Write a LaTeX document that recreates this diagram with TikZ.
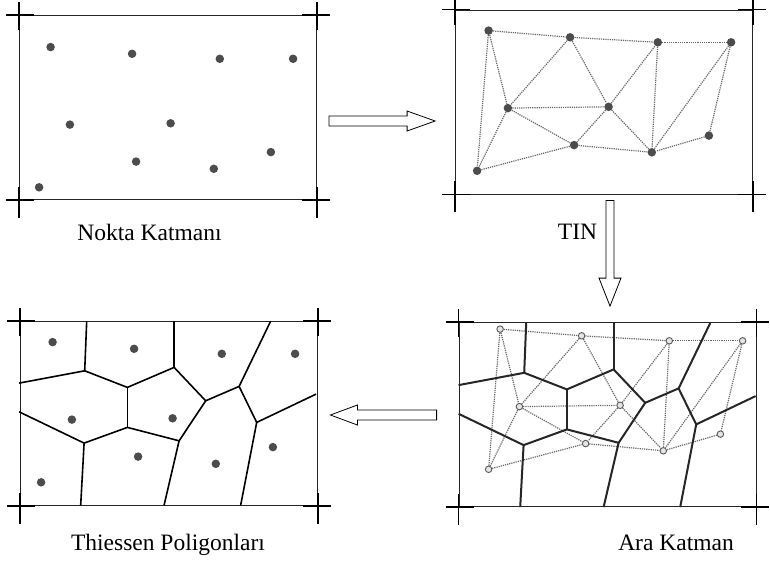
\documentclass[tikz,border=0pt]{standalone}
\usepackage{fontspec}
\setmainfont{Liberation Serif}
\usetikzlibrary{calc}

% sites, relative to the top left corner of a panel
\newcommand\sites[2]{%
  \foreach \n/\px/\py in {a/33.5/21, b/115/27.7, c/202.7/32.7, d/276/32.7, e/52.8/98.5,
      f/153.5/97.2, g/253.8/126, h/119/135.5, i/196.7/142.7, j/22/161.2}
    \node[#2] (#1\n) at (\px,\py) {};}
% triangle edges between the sites
\newcommand\tinedges[1]{%
  \foreach \u/\v in {a/b, b/c, c/d, a/e, a/j, b/e, b/f, e/f, e/j, e/h, f/h, f/c,
      f/i, c/i, d/i, d/g, g/i, h/i, j/h}
    \draw[tinline] (#1\u) -- (#1\v);}
% polygon edges
\newcommand\voronoi[1]{%
  \coordinate (v1) at (65.6,49.7);
  \coordinate (v2) at (108.3,66.3);
  \coordinate (v3) at (155,46.3);
  \coordinate (v4) at (186.6,79.7);
  \coordinate (v5) at (220,65.3);
  \coordinate (v6) at (237.6,101.3);
  \coordinate (v7) at (160,119.7);
  \coordinate (v8) at (108.3,106.3);
  \coordinate (v9) at (65,122);
  \draw[#1] (67.6,0) -- (v1) -- (v2) -- (v3) -- (v4) -- (v5) -- (v6) -- (297,73);
  \draw[#1] (0,62) -- (v1);
  \draw[#1] (155,0) -- (v3);
  \draw[#1] (251.6,0) -- (v5);
  \draw[#1] (0,90.7) -- (v9) -- (v8) -- (v7) -- (v4);
  \draw[#1] (v2) -- (v8);
  \draw[#1] (v9) -- (61.6,184);
  \draw[#1] (v7) -- (145,184);
  \draw[#1] (v6) -- (221.6,184);}
% corner crosses of a panel
\newcommand\cropmarks[1]{%
  \foreach \c/\ho/\hi/\vo/\vi in {north west/-13/15/-13/15, north east/13/-15/-13/15,
      south west/-13/15/18/-13, south east/13/-15/18/-13}{
    \draw[tick] ($(#1.\c)+(\ho,0)$) -- ($(#1.\c)+(\hi,0)$);
    \draw[tick] ($(#1.\c)+(0,\vo)$) -- ($(#1.\c)+(0,\vi)$);}}

\begin{document}
\begin{tikzpicture}[x=1pt, y=-1pt,
    panel/.style={draw=black!85, line width=0.8pt, minimum width=297pt, minimum height=184pt, inner sep=0pt},
    tick/.style={line width=1.3pt},
    site/.style={circle, fill=black!70, minimum size=8.5pt, inner sep=0pt},
    opensite/.style={circle, draw=black!65, fill=black!10, line width=0.9pt, minimum size=6.5pt, inner sep=0pt},
    tinline/.style={black!60, densely dotted, line width=1.2pt},
    cellline/.style={line width=1.6pt},
    overline/.style={black!85, line width=2pt},
    hollow/.style={draw, line width=0.8pt, fill=white, line join=miter},
    caption/.style={font=\fontsize{23.5}{28}\selectfont}]

  \useasboundingbox (0,0) rectangle (770,562);

  % Panels
  \node[panel] (nokta) at (168,107.5) {};
  \node[panel] (tin) at (604,102) {};
  \node[panel] (thiessen) at (169,413.5) {};
  \node[panel] (ara) at (607.5,414.5) {};
  \cropmarks{nokta}
  \cropmarks{tin}
  \cropmarks{thiessen}
  \cropmarks{ara}

  % Point layer
  \begin{scope}[shift={($(nokta.north west)+(-2,11)$)}]
    \sites{n}{site}
  \end{scope}

  % TIN
  \begin{scope}[shift={(tin.north west)}]
    \sites{t}{site}
    \tinedges{t}
  \end{scope}

  % Thiessen polygons
  \begin{scope}[shift={($(thiessen.north west)+(-1,0)$)}]
    \voronoi{cellline}
    \sites{p}{site}
  \end{scope}

  % Intermediate layer
  \begin{scope}[shift={($(ara.north west)+(8,-14)$)}]
    \sites{a}{opensite}
    \tinedges{a}
  \end{scope}
  \begin{scope}[shift={($(ara.north west)+(0,1)$)}]
    \voronoi{overline}
  \end{scope}

  % Arrows
  \coordinate (ra) at ($(nokta.east)+(12,13.5)$);
  \coordinate (rb) at ($(tin.west)+(-20,19)$);
  \draw[hollow] ($(ra)+(0,-5)$) -- ($(rb)+(-28,-5)$) -- ($(rb)+(-28,-10)$) -- (rb)
    -- ($(rb)+(-28,10)$) -- ($(rb)+(-28,5)$) -- ($(ra)+(0,5)$) -- cycle;

  \coordinate (da) at ($(tin.south)+(6,6)$);
  \coordinate (db) at ($(ara.north)+(2.5,-16)$);
  \draw[hollow] ($(da)+(-4,0)$) -- ($(db)+(-4,-28)$) -- ($(db)+(-11,-28)$) -- (db)
    -- ($(db)+(11,-28)$) -- ($(db)+(4,-28)$) -- ($(da)+(4,0)$) -- cycle;

  \coordinate (la) at ($(ara.west)+(-22,0.5)$);
  \coordinate (lb) at ($(thiessen.east)+(12.5,1.5)$);
  \draw[hollow] ($(la)+(0,-5)$) -- ($(lb)+(27,-5)$) -- ($(lb)+(27,-10)$) -- (lb)
    -- ($(lb)+(27,10)$) -- ($(lb)+(27,5)$) -- ($(la)+(0,5)$) -- cycle;

  % Captions
  \node[caption] (lnokta) at (149.5,232.7) {Nokta Katmanı};
  \node[caption] (ltin) at (577.5,231.7) {TIN};
  \node[caption] (lthiessen) at (168,545) {Thiessen Poligonları};
  \node[caption] (lara) at (676,543.3) {Ara Katman};

\end{tikzpicture}
\end{document}
